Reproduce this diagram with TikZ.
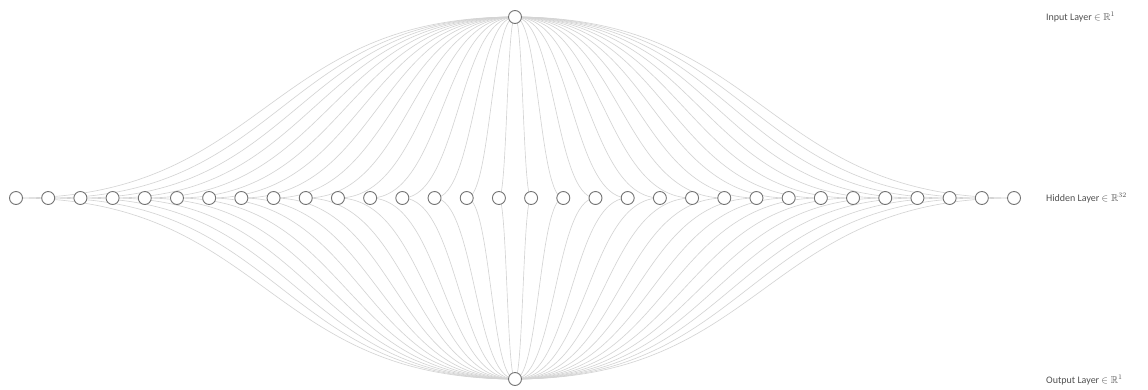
\documentclass[tikz,border=0pt]{standalone}
\usepackage{amssymb}
\usepackage{fontspec}
\setmainfont{Carlito}
\usetikzlibrary{calc}
\definecolor{ncol}{RGB}{115,115,115}
\definecolor{lcol}{RGB}{212,212,212}
\definecolor{tcol}{RGB}{80,80,80}
\pgfdeclarelayer{bg}
\pgfsetlayers{bg,main}
\begin{document}
\begin{tikzpicture}[x=1pt,y=-1pt,
  neuron/.style={circle,draw=ncol,fill=white,line width=0.9pt,minimum size=13pt,inner sep=0pt},
  link/.style={draw=lcol,line width=0.65pt},
  lab/.style={anchor=west,text=tcol,font=\fontsize{10}{12}\selectfont,inner sep=0pt}]
\useasboundingbox (0,0) rectangle (1148,389);
\node[neuron] (in) at (515,17) {};
\node[neuron] (out) at (515,379) {};
\foreach \i in {1,...,32} {
  \pgfmathsetmacro\xx{16+(\i-1)*32.194}
  \node[neuron] (h\i) at (\xx,198) {};
}
\begin{pgfonlayer}{bg}
\foreach \i in {1,...,32} {
  \draw[link] let \p1=(in.center), \p2=(h\i.center) in
    (in.center) .. controls (0.5*\x1+0.5*\x2,\y1) and (0.5*\x1+0.5*\x2,\y2) .. (h\i.center);
  \draw[link] let \p1=(out.center), \p2=(h\i.center) in
    (out.center) .. controls (0.5*\x1+0.5*\x2,\y1) and (0.5*\x1+0.5*\x2,\y2) .. (h\i.center);
}
\end{pgfonlayer}
\node[lab] (lin) at (1046,17) {Input Layer $\in\mathbb{R}^{1}$};
\node[lab] (lhid) at (1046,198) {Hidden Layer $\in\mathbb{R}^{32}$};
\node[lab] (lout) at (1046,380) {Output Layer $\in\mathbb{R}^{1}$};
\end{tikzpicture}
\end{document}
